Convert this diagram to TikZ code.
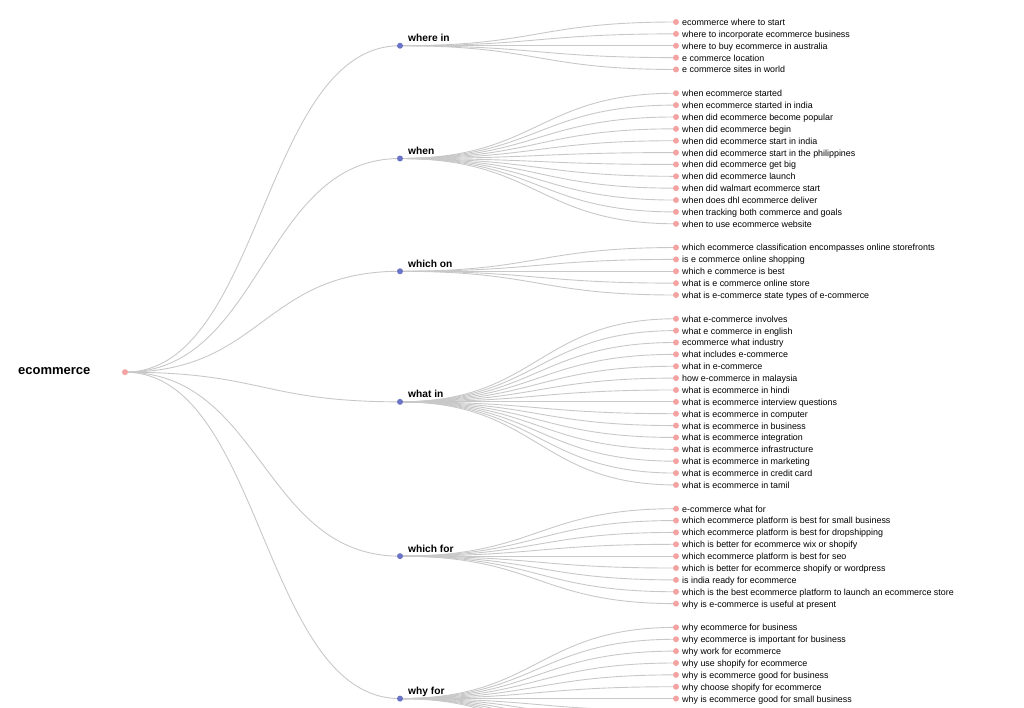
\documentclass[tikz,border=0pt]{standalone}
\usepackage{fontspec}
\setmainfont{Liberation Sans}
\usetikzlibrary{backgrounds}

\definecolor{leafpink}{HTML}{F4A3A3}
\definecolor{branchblue}{HTML}{6A74C6}
\definecolor{linkgray}{HTML}{C8C8C8}

\tikzset{
	leafdot/.style={circle, fill=leafpink, inner sep=0pt, minimum size=6pt},
	branchdot/.style={circle, fill=branchblue, inner sep=0pt, minimum size=6pt},
	link/.style={draw=linkgray, line width=0.9pt},
	leaftext/.style={font=\fontsize{8.9}{10}\selectfont, anchor=mid west, inner sep=0pt, yshift=-0.8pt},
	branchtext/.style={font=\fontsize{10.2}{12}\selectfont\bfseries, anchor=base west, inner sep=0pt},
	roottext/.style={font=\fontsize{13}{15}\selectfont\bfseries, anchor=base west, inner sep=0pt}
}

\begin{document}
\begin{tikzpicture}[x=1pt, y={(0pt,-1pt)}]
	\useasboundingbox (0,0) rectangle (1024,707);
	\clip (0,0) rectangle (1024,707);
	
	% root
	\node[leafdot] (root) at (125,{22+11.87*29.5}) {};
	\node[roottext] (root-label) at (18,374) {ecommerce};
	
	% branches
	\foreach \b/\s/\t in {where/2/where in, when/11.5/when, whichon/21/which on,
		whatin/32/what in, whichfor/45/which for, whyfor/57/why for}
	{
		\node[branchdot] (\b) at (400,{22+11.87*\s}) {};
		\node[branchtext] (\b-label) at ([xshift=8pt,yshift=4pt]\b.center) {\t};
	}
	
	% leaves
	\foreach \s/\t in {
		0/ecommerce where to start,
		1/where to incorporate ecommerce business,
		2/where to buy ecommerce in australia,
		3/e commerce location,
		4/e commerce sites in world,
		6/when ecommerce started,
		7/when ecommerce started in india,
		8/when did ecommerce become popular,
		9/when did ecommerce begin,
		10/when did ecommerce start in india,
		11/when did ecommerce start in the philippines,
		12/when did ecommerce get big,
		13/when did ecommerce launch,
		14/when did walmart ecommerce start,
		15/when does dhl ecommerce deliver,
		16/when tracking both commerce and goals,
		17/when to use ecommerce website,
		19/which ecommerce classification encompasses online storefronts,
		20/is e commerce online shopping,
		21/which e commerce is best,
		22/what is e commerce online store,
		23/what is e-commerce state types of e-commerce,
		25/what e-commerce involves,
		26/what e commerce in english,
		27/ecommerce what industry,
		28/what includes e-commerce,
		29/what in e-commerce,
		30/how e-commerce in malaysia,
		31/what is ecommerce in hindi,
		32/what is ecommerce interview questions,
		33/what is ecommerce in computer,
		34/what is ecommerce in business,
		35/what is ecommerce integration,
		36/what is ecommerce infrastructure,
		37/what is ecommerce in marketing,
		38/what is ecommerce in credit card,
		39/what is ecommerce in tamil,
		41/e-commerce what for,
		42/which ecommerce platform is best for small business,
		43/which ecommerce platform is best for dropshipping,
		44/which is better for ecommerce wix or shopify,
		45/which ecommerce platform is best for seo,
		46/which is better for ecommerce shopify or wordpress,
		47/is india ready for ecommerce,
		48/which is the best ecommerce platform to launch an ecommerce store,
		49/why is e-commerce is useful at present,
		51/why ecommerce for business,
		52/why ecommerce is important for business,
		53/why work for ecommerce,
		54/why use shopify for ecommerce,
		55/why is ecommerce good for business,
		56/why choose shopify for ecommerce,
		57/why is ecommerce good for small business}
	{
		\node[leafdot] (leaf-\s) at (676,{22+11.87*\s}) {};
		\node[leaftext] (text-\s) at (682,{22+11.87*\s}) {\t};
	}
	% rest of "why for" runs below the frame
	\foreach \s in {58,...,63}
	\coordinate (leaf-\s) at (676,{22+11.87*\s});
	
	\begin{pgfonlayer}{background}
		\foreach \b in {where,when,whichon,whatin,whichfor,whyfor}
		\draw[link] (root.center) .. controls +(137.5,0) and +(-137.5,0) .. (\b.center);
		
		\foreach \b/\first/\last in {where/0/4, when/6/17, whichon/19/23,
			whatin/25/39, whichfor/41/49, whyfor/51/63}
		{
			\foreach \s in {\first,...,\last}
			\draw[link] (\b.center) .. controls +(138,0) and +(-138,0) .. (leaf-\s.center);
		}
	\end{pgfonlayer}
\end{tikzpicture}
\end{document}
